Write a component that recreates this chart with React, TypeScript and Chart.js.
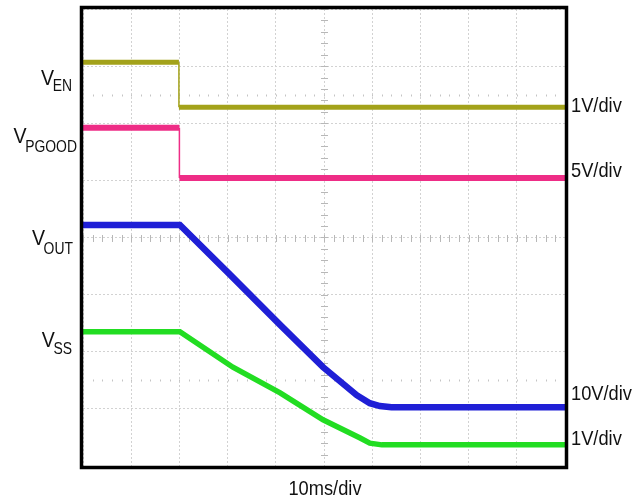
import React, { useEffect, useRef } from "react";
import { Chart, registerables } from "chart.js";

Chart.register(...registerables);

// time axis: ms (10 ms/div, 10 divisions); vertical axis: screen divisions (8)
const enTime = [0, 19.9, 19.9, 100];
const enLevel = [7.07, 7.07, 6.28, 6.28];
const pgTime = [0, 20.0, 20.0, 100];
const pgLevel = [5.92, 5.92, 5.04, 5.04];
const outTime = [0, 20.1, 30.5, 40.9, 49.8, 56.8, 59.5, 61.6, 64, 100];
const outLevel = [4.22, 4.22, 3.35, 2.47, 1.73, 1.24, 1.1, 1.05, 1.03, 1.03];
const ssTime = [0, 20.1, 31.1, 40.9, 49.8, 57.5, 59.5, 62, 100];
const ssLevel = [2.35, 2.35, 1.73, 1.28, 0.81, 0.49, 0.4, 0.37, 0.37];

const seriesNames = ["VEN", "VPGOOD", "VOUT", "VSS"];
const seriesColors = ["#a3a21a", "#ee2d86", "#1f1fd6", "#22dd22"];
const seriesWidths = [5, 6, 6.5, 5.5];

const leftMain = ["V", "V", "V", "V"];
const leftSub = ["EN", "PGOOD", "OUT", "SS"];
const leftRight = [72, 77, 73, 72];
const leftBase = [85, 143, 245, 347];
const subBase = [91, 152, 254, 354];

const scaleLabels = ["1V/div", "5V/div", "10V/div", "1V/div"];
const scaleLabelBase = [112, 177, 400, 445];
const timeLabel = "10ms/div";

const markerLevels = [6.5, 1.5];

const FONT = "'Liberation Sans', Arial, sans-serif";
const SQ = 0.87;

function pts(xs: number[], ys: number[]) {
  return xs.map((x, i) => ({ x, y: ys[i] }));
}

function drawText(ctx: CanvasRenderingContext2D, text: string, x: number, y: number, size: number, align: "left" | "right" | "center") {
  ctx.save();
  ctx.font = `${size}px ${FONT}`;
  const w = ctx.measureText(text).width * SQ;
  let left = x;
  if (align === "right") left = x - w;
  if (align === "center") left = x - w / 2;
  ctx.translate(left, y);
  ctx.scale(SQ, 1);
  ctx.textAlign = "left";
  ctx.textBaseline = "alphabetic";
  ctx.fillText(text, 0, 0);
  ctx.restore();
  return w;
}

const scopePlugin = {
  id: "scope",
  beforeDatasetsDraw(chart: any) {
    const { ctx, chartArea, scales } = chart;
    const xs = scales.x;
    const ys = scales.y;
    ctx.save();
    ctx.strokeStyle = "#b8b8b8";
    ctx.lineWidth = 1;
    // center line minor ticks
    const cx = Math.round(xs.getPixelForValue(50)) + 0.5;
    const cy = Math.round(ys.getPixelForValue(4)) + 0.5;
    ctx.beginPath();
    for (let v = 0; v <= 8.001; v += 0.2) {
      const py = Math.round(ys.getPixelForValue(v)) + 0.5;
      ctx.moveTo(cx - 3.5, py);
      ctx.lineTo(cx + 3.5, py);
    }
    for (let t = 0; t <= 100.001; t += 2) {
      const px = Math.round(xs.getPixelForValue(t)) + 0.5;
      ctx.moveTo(px, cy - 3.5);
      ctx.lineTo(px, cy + 3.5);
    }
    ctx.stroke();
    // marker dotted lines
    ctx.strokeStyle = "#c4c4c4";
    ctx.beginPath();
    markerLevels.forEach((lv) => {
      const py = Math.round(ys.getPixelForValue(lv)) + 0.5;
      for (let t = 2; t < 100; t += 2) {
        const px = Math.round(xs.getPixelForValue(t)) + 0.5;
        ctx.moveTo(px, py - 1);
        ctx.lineTo(px, py + 1);
      }
    });
    ctx.stroke();
    ctx.restore();
  },
  afterDatasetsDraw(chart: any) {
    const { ctx, chartArea } = chart;
    const { left, right, top, bottom } = chartArea;
    ctx.save();
    ctx.strokeStyle = "#000";
    ctx.lineWidth = 3.5;
    ctx.strokeRect(left - 1.5, top - 1.5, right - left + 3, bottom - top + 3);
    ctx.fillStyle = "#111";
    for (let i = 0; i < leftMain.length; i++) {
      ctx.font = `16px ${FONT}`;
      const subW = ctx.measureText(leftSub[i]).width * SQ;
      const subX = leftRight[i] - subW;
      drawText(ctx, leftSub[i], subX, subBase[i], 16, "left");
      drawText(ctx, leftMain[i], subX + 1.5, leftBase[i], 22.5, "right");
    }
    for (let i = 0; i < scaleLabels.length; i++) {
      drawText(ctx, scaleLabels[i], right + 6, scaleLabelBase[i], 21, "left");
    }
    drawText(ctx, timeLabel, (left + right) / 2 + 1, 495, 21, "center");
    ctx.restore();
  },
};

export default function App() {
  const ref = useRef<HTMLCanvasElement | null>(null);
  useEffect(() => {
    if (!ref.current) return;
    const series = [pts(enTime, enLevel), pts(pgTime, pgLevel), pts(outTime, outLevel), pts(ssTime, ssLevel)];
    const chart = new Chart(ref.current, {
      type: "line",
      data: {
        datasets: series.map((d, i) => ({
          label: seriesNames[i],
          data: d,
          borderColor: seriesColors[i],
          backgroundColor: seriesColors[i],
          borderWidth: seriesWidths[i],
          pointRadius: 0,
          tension: 0,
          fill: false,
          segment: {
            borderWidth: (c: any) => (c.p0.parsed.x === c.p1.parsed.x ? 1.5 : undefined),
          },
        })),
      },
      plugins: [scopePlugin],
      options: {
        responsive: false,
        animation: false,
        devicePixelRatio: 1,
        layout: { padding: { left: 83, right: 72, top: 9, bottom: 36 } },
        plugins: { legend: { display: false }, tooltip: { enabled: false } },
        scales: {
          x: {
            type: "linear",
            min: 0,
            max: 100,
            ticks: { display: false, stepSize: 10 },
            grid: { color: "#d2d2d2", lineWidth: 1, drawTicks: false },
            border: { display: false, dash: [2, 2] },
          },
          y: {
            type: "linear",
            min: 0,
            max: 8,
            ticks: { display: false, stepSize: 1 },
            grid: { color: "#d2d2d2", lineWidth: 1, drawTicks: false },
            border: { display: false, dash: [2, 2] },
          },
        },
      } as any,
    });
    return () => chart.destroy();
  }, []);
  return (
    <div style={{ position: "absolute", left: 0, top: 0, width: 637, height: 502, background: "#fff" }}>
      <canvas ref={ref} width={637} height={502} style={{ display: "block" }} />
    </div>
  );
}
